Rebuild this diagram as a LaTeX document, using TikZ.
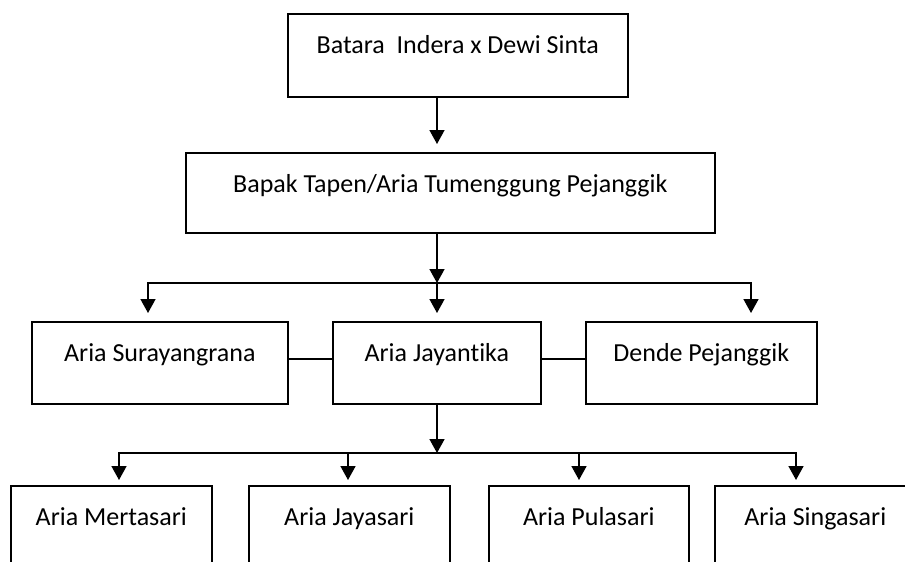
\documentclass[tikz,border=0pt]{standalone}
\usepackage{fontspec}
\setmainfont{Carlito}[Ligatures=NoCommon]
\usetikzlibrary{arrows.meta}

\tikzset{
  person/.style={draw, line width=1.6pt, inner sep=0pt, anchor=north west,
    text height=40pt, font=\fontsize{26}{31}\selectfont},
  lin/.style={line width=1.6pt},
  arr/.style={lin, -{Triangle[length=14pt,width=15pt]}},
}

\begin{document}
\begin{tikzpicture}[x=1pt,y=-1pt]
            \useasboundingbox (0,0) rectangle (905,562);
            \clip (0,0) rectangle (905,562);

            % generations
            \node[person, minimum width=340pt, text depth=43pt] (batara) at (287,13) {Batara\ \ Indera x Dewi Sinta};
            \node[person, minimum width=529pt, text depth=40pt] (tapen) at (185,152) {Bapak Tapen/Aria Tumenggung Pejanggik};

            \node[person, minimum width=256pt, text depth=42pt] (sura) at (31,321) {Aria Surayangrana};
            \node[person, minimum width=208pt, text depth=42pt] (jay) at (332,321) {Aria Jayantika};
            \node[person, minimum width=231pt, text depth=42pt] (dende) at (585,321) {Dende Pejanggik};

            \node[person, minimum width=201pt, text depth=42pt] (merta) at (10,485) {Aria Mertasari};
            \node[person, minimum width=201pt, text depth=42pt] (jsari) at (248,485) {Aria Jayasari};
            \node[person, minimum width=200pt, text depth=42pt] (pula) at (488,485) {Aria Pulasari};
            \node[person, minimum width=201pt, text depth=42pt] (singa) at (714,485) {Aria Singasari};

            \coordinate (cab1) at (437,283);
            \coordinate (b1l) at (148,283);
            \coordinate (b1r) at (751,283);
            \coordinate (cab2) at (437,453);
            \coordinate (b2l) at (119,453);
            \coordinate (b2a) at (348,453);
            \coordinate (b2b) at (579,453);
            \coordinate (b2r) at (796,453);

            \draw[arr, shorten >=8pt] (batara.south -| cab1) -- (tapen.north -| cab1);
            \draw[arr] (tapen.south -| cab1) -- (cab1);
            \draw[arr, shorten >=8pt] (cab1) -- (b1l) -- (sura.north -| b1l);
            \draw[arr, shorten >=8pt] (cab1) -- (b1r) -- (dende.north -| b1r);
            \draw[arr, shorten >=8pt] (cab1) -- (jay.north -| cab1);

            \draw[lin] ([yshift=4pt]sura.east) -- ([yshift=4pt]jay.west);
            \draw[lin] ([yshift=4pt]jay.east) -- ([yshift=4pt]dende.west);

            \draw[arr] (jay.south -| cab2) -- (cab2);
            \draw[arr, shorten >=5pt] (cab2) -- (b2l) -- (merta.north -| b2l);
            \draw[arr, shorten >=5pt] (cab2) -- (b2r) -- (singa.north -| b2r);
            \foreach \c/\n in {b2a/jsari, b2b/pula}
                \draw[arr, shorten >=5pt] (\c) -- (\n.north -| \c);
        \end{tikzpicture}
\end{document}
